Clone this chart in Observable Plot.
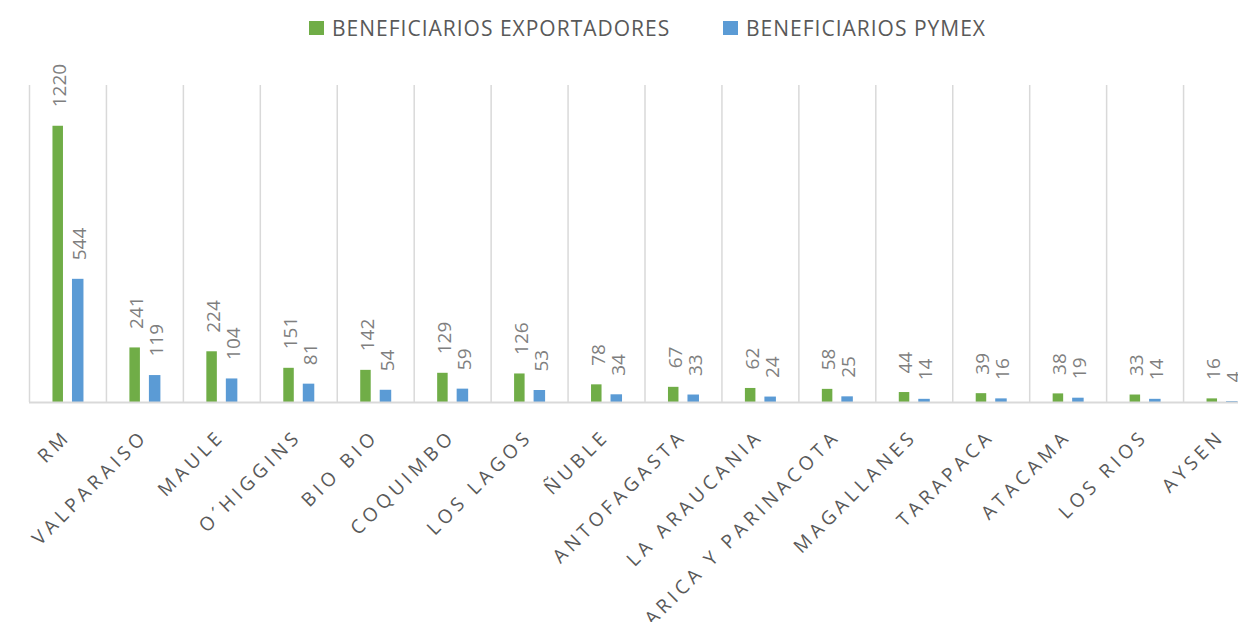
<!DOCTYPE html>
<html>
<head>
<meta charset="utf-8">
<script src="https://cdn.jsdelivr.net/npm/d3@7"></script>
<script src="https://cdn.jsdelivr.net/npm/@observablehq/plot@0.6"></script>
<style>
  html, body { margin: 0; padding: 0; background: #fff; width: 1238px; height: 622px; overflow: hidden; }
  #legend { position: relative; height: 56px; font-family: "Open Sans", sans-serif; font-size: 21px; letter-spacing: 1px; color: #595959; }
  .item { position: absolute; top: 14px; display: flex; align-items: center; white-space: nowrap; }
  .sw { width: 15px; height: 14px; margin-right: 8px; }
  #chart svg { overflow: hidden; display: block; }
</style>
</head>
<body>
<div id="legend"></div>
<div id="chart"></div>
<script>
const regions = ["RM", "VALPARAISO", "MAULE", "O´HIGGINS", "BIO BIO", "COQUIMBO", "LOS LAGOS", "ÑUBLE", "ANTOFAGASTA", "LA ARAUCANIA", "ARICA Y PARINACOTA", "MAGALLANES", "TARAPACA", "ATACAMA", "LOS RIOS", "AYSEN"];
const exportadores = [1220, 241, 224, 151, 142, 129, 126, 78, 67, 62, 58, 44, 39, 38, 33, 16];
const pymex = [544, 119, 104, 81, 54, 59, 53, 34, 33, 24, 25, 14, 16, 19, 14, 4];
const seriesNames = ["BENEFICIARIOS EXPORTADORES", "BENEFICIARIOS PYMEX"];
const seriesColors = ["#70AD47", "#5B9BD5"];
const yMax = 1400;

const expData = regions.map((r, i) => ({region: r, value: exportadores[i]}));
const pymData = regions.map((r, i) => ({region: r, value: pymex[i]}));

// legend
const legend = document.getElementById("legend");
const lx = [309, 723];
seriesNames.forEach((name, i) => {
  const it = document.createElement("div");
  it.className = "item";
  it.style.left = lx[i] + "px";
  it.innerHTML = `<div class="sw" style="background:${seriesColors[i]}"></div><span>${name}</span>`;
  legend.appendChild(it);
});

const W = 1238, H = 566;
const x0 = 29, x1 = 1260;
const step = (x1 - x0) / regions.length;
const half = step / 2;

const chart = Plot.plot({
  width: W,
  height: H,
  marginTop: 29,
  marginBottom: 220,
  marginLeft: x0,
  marginRight: 0,
  style: {fontFamily: "Open Sans, sans-serif", background: "#fff"},
  x: {domain: regions, range: [x0, x1], padding: 0, round: false, axis: null},
  y: {domain: [0, yMax], axis: null},
  marks: [
    Plot.ruleX(regions, {x: d => d, y1: 0, y2: yMax, dx: -half, stroke: "#d9d9d9", strokeWidth: 1.5}),
    Plot.barY(expData, {x: "region", y: "value", fill: seriesColors[0], insetLeft: half - 15, insetRight: half + 4.5}),
    Plot.barY(pymData, {x: "region", y: "value", fill: seriesColors[1], insetLeft: half + 4.5, insetRight: half - 16}),
    Plot.ruleY([0], {stroke: "#d9d9d9", strokeWidth: 2}),
    Plot.text(expData, {x: "region", y: "value", text: d => String(d.value), rotate: -90, textAnchor: "start", dx: -8, dy: -19, fill: "#7f7f7f", fontSize: 19}),
    Plot.text(pymData, {x: "region", y: "value", text: d => String(d.value), rotate: -90, textAnchor: "start", dx: 12, dy: -19, fill: "#7f7f7f", fontSize: 19}),
    Plot.text(regions, {x: d => d, frameAnchor: "bottom", text: d => d, rotate: -45, textAnchor: "end", lineAnchor: "bottom", dx: 4, dy: 35, fill: "#595959", fontSize: 19})
  ]
});
// wide letter spacing on the category labels (last text layer)
const textGroups = chart.querySelectorAll('g[aria-label="text"]');
const xlab = textGroups[textGroups.length - 1];
xlab.setAttribute("letter-spacing", "4.3");
xlab.style.letterSpacing = "4.3px";
document.getElementById("chart").appendChild(chart);
</script>
</body>
</html>
